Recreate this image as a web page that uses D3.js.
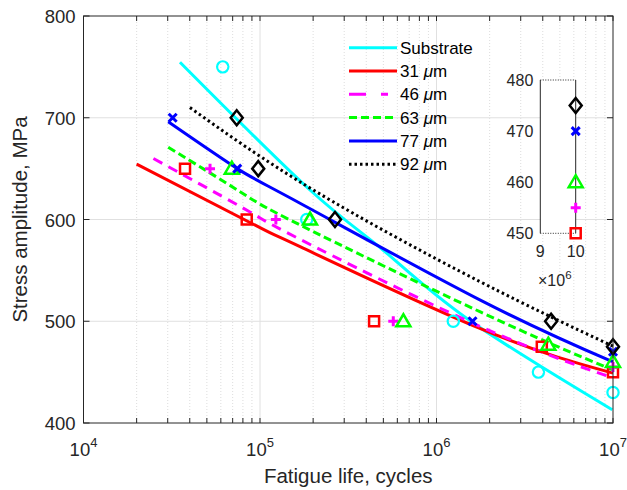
<!DOCTYPE html>
<html>
<head>
<meta charset="utf-8">
<script src="https://cdn.jsdelivr.net/npm/d3@7"></script>
<style>
  html, body { margin: 0; padding: 0; background: #fff; }
  svg { display: block; font-family: "Liberation Sans", Arial, Helvetica, sans-serif; }
</style>
</head>
<body>
<svg id="chart" width="627" height="490"></svg>
<script>
// ── data ────────────────────────────────────────────────────────────────────
const seriesNames = ['Substrate', '31', '46', '63', '77', '92'];
const seriesColors = ['#00ffff', '#ff0000', '#ff00ff', '#00ff00', '#0000ff', '#000000'];
const seriesMarkers = ['circle', 'square', 'plus', 'triangle', 'cross', 'diamond'];
const seriesDash = [null, null, '10,7', '8,4', null, '2.5,3'];
const legendDash = [null, null, '17,15,7', '8,4', null, '2.5,3'];

// test points (cycles, MPa)
const subN = [61500, 184000, 1245000, 3780000, 1e7];
const subS = [750, 600, 500, 450, 430];
const c31N = [37600, 84100, 443000, 3950000, 1e7];
const c31S = [650, 600, 500, 475, 450];
const c46N = [52100, 123000, 569000, 1e7];
const c46S = [650, 600, 500, 455];
const c63N = [69200, 192000, 649000, 4300000, 1e7];
const c63S = [650, 600, 500, 477, 460];
const c77N = [32000, 74300, 1600000, 1e7];
const c77S = [700, 650, 500, 470];
const c92N = [73800, 97700, 266000, 4460000, 1e7];
const c92S = [700, 650, 600, 500, 475];

// fitted S-N curves
const fitSubN = [35200, 192000, 490000, 1480000, 9900000];
const fitSubS = [754.5, 629, 571, 503, 413];
const fit31N = [20000, 1e5, 168600, 1760000, 1e7];
const fit31S = [654.5, 592, 573.3, 493, 449];
const fit46N = [24900, 87700, 168600, 1610000, 1e7];
const fit46S = [660, 607.4, 580.5, 498, 444.2];
const fit63N = [30200, 77100, 168600, 1760000, 1e7];
const fit63S = [671, 627.3, 594.6, 509.4, 452];
const fit77N = [30200, 74300, 168600, 1760000, 1e7];
const fit77S = [696, 650, 616, 521, 460];
const fit92N = [40100, 200400, 1760000, 1e7];
const fit92S = [710, 629, 539, 475.5];

const xTicks = [1e4, 1e5, 1e6, 1e7];
const yTicks = [400, 500, 600, 700, 800];
const insetYTicks = [450, 460, 470, 480];
const insetXTicks = [9e6, 1e7];

const points = [[subN, subS], [c31N, c31S], [c46N, c46S], [c63N, c63S], [c77N, c77S], [c92N, c92S]];
const fits = [[fitSubN, fitSubS], [fit31N, fit31S], [fit46N, fit46S], [fit63N, fit63S], [fit77N, fit77S], [fit92N, fit92S]];

// ── layout ──────────────────────────────────────────────────────────────────
const L = 83.5, R = 613, T = 16, B = 423;
const svg = d3.select('#chart');
const x = d3.scaleLog().domain([1e4, 1e7]).range([L, R]);
const y = d3.scaleLinear().domain([400, 800]).range([B, T]);

// grid
const minorX = [];
for (let e = 4; e < 7; e++) for (let m = 2; m <= 9; m++) minorX.push(m * Math.pow(10, e));
const grid = svg.append('g');
grid.selectAll('line.mx').data(minorX).enter().append('line')
  .attr('x1', d => x(d)).attr('x2', d => x(d)).attr('y1', T).attr('y2', B)
  .attr('stroke', '#d4d4d4').attr('stroke-width', 0.8).attr('stroke-dasharray', '1,2');
grid.selectAll('line.gx').data(xTicks.slice(1, -1)).enter().append('line')
  .attr('x1', d => x(d)).attr('x2', d => x(d)).attr('y1', T).attr('y2', B)
  .attr('stroke', '#e0e0e0').attr('stroke-width', 1);
grid.selectAll('line.gy').data(yTicks.slice(1, -1)).enter().append('line')
  .attr('x1', L).attr('x2', R).attr('y1', d => y(d)).attr('y2', d => y(d))
  .attr('stroke', '#e0e0e0').attr('stroke-width', 1);

// fitted curves
const line = d3.line().curve(d3.curveNatural);
const curves = svg.append('g').attr('fill', 'none');
fits.forEach((f, i) => {
  curves.append('path')
    .attr('d', line(f[0].map((n, k) => [x(n), y(f[1][k])])))
    .attr('stroke', seriesColors[i]).attr('stroke-width', 3)
    .attr('stroke-dasharray', seriesDash[i]);
});

// markers
function marker(g, type, color) {
  const p = g.append('path').attr('fill', 'none').attr('stroke', color);
  if (type === 'circle') p.attr('d', d3.symbol(d3.symbolCircle, 100)()).attr('stroke-width', 2.2);
  if (type === 'square') p.attr('d', 'M-5,-5H5V5H-5Z').attr('stroke-width', 2.5);
  if (type === 'plus') p.attr('d', 'M-5,0H5M0,-5V5').attr('stroke-width', 3);
  if (type === 'cross') p.attr('d', 'M-4,-4L4,4M-4,4L4,-4').attr('stroke-width', 3);
  if (type === 'triangle') p.attr('d', 'M0,-7L7,5H-7Z').attr('stroke-width', 2.5);
  if (type === 'diamond') p.attr('d', 'M0,-7.5L6,0L0,7.5L-6,0Z').attr('stroke-width', 2.5);
}
const marks = svg.append('g');
points.forEach((pt, i) => {
  pt[0].forEach((n, k) => {
    const g = marks.append('g').attr('transform', `translate(${x(n)},${y(pt[1][k])})`);
    marker(g, seriesMarkers[i], seriesColors[i]);
  });
});

// axes frame + ticks
const ax = svg.append('g').attr('stroke', '#262626').attr('fill', 'none');
ax.append('rect').attr('x', L).attr('y', T).attr('width', R - L).attr('height', B - T).attr('stroke-width', 1);
minorX.concat(xTicks).forEach(d => {
  ax.append('line').attr('x1', x(d)).attr('x2', x(d)).attr('y1', B).attr('y2', B - 5);
  ax.append('line').attr('x1', x(d)).attr('x2', x(d)).attr('y1', T).attr('y2', T + 5);
});
yTicks.forEach(d => {
  ax.append('line').attr('x1', L).attr('x2', L + 6).attr('y1', y(d)).attr('y2', y(d));
  ax.append('line').attr('x1', R).attr('x2', R - 6).attr('y1', y(d)).attr('y2', y(d));
});

const txt = svg.append('g').attr('fill', '#262626');
yTicks.forEach(d => {
  txt.append('text').attr('x', L - 8).attr('y', y(d) + 7).attr('text-anchor', 'end')
    .attr('font-size', 18.5).text(d);
});
xTicks.forEach(d => {
  const t = txt.append('text').attr('x', x(d)).attr('y', 456).attr('text-anchor', 'middle').attr('font-size', 18.5);
  t.append('tspan').text('10');
  t.append('tspan').attr('dy', -9).attr('font-size', 13).text(Math.round(Math.log10(d)));
});
txt.append('text').attr('x', (L + R) / 2).attr('y', 483).attr('text-anchor', 'middle')
  .attr('font-size', 20.5).text('Fatigue life, cycles');
txt.append('text').attr('transform', `translate(27,${(T + B) / 2}) rotate(-90)`)
  .attr('text-anchor', 'middle').attr('font-size', 20.5).text('Stress amplitude, MPa');

// legend
const lg = svg.append('g');
seriesNames.forEach((name, i) => {
  const ly = 47.7 + i * 23.3;
  lg.append('line').attr('x1', 349).attr('x2', 397).attr('y1', ly).attr('y2', ly)
    .attr('stroke', seriesColors[i]).attr('stroke-width', 3).attr('stroke-dasharray', legendDash[i]);
  const t = lg.append('text').attr('x', 400).attr('y', ly + 6).attr('font-size', 17).attr('fill', '#000');
  if (i === 0) t.text(name);
  else {
    t.append('tspan').text(name + ' ');
    t.append('tspan').attr('font-style', 'italic').text('\u03bc');
    t.append('tspan').text('m');
  }
});

// inset: zoom on the 10^7 cycle points
const iL = 540.3, iR = 575.7, iT = 80, iB = 233.3;
const ix = d3.scaleLinear().domain([9e6, 1e7]).range([iL, iR]);
const iy = d3.scaleLinear().domain([450, 480]).range([iB, iT]);
const ins = svg.append('g');
ins.append('rect').attr('x', iL).attr('y', iT).attr('width', iR - iL).attr('height', iB - iT).attr('fill', '#fff');
ins.append('line').attr('x1', iL).attr('x2', iR).attr('y1', iT).attr('y2', iT)
  .attr('stroke', '#262626').attr('stroke-dasharray', '1,1.5');
ins.append('line').attr('x1', iL).attr('x2', iR).attr('y1', iB).attr('y2', iB)
  .attr('stroke', '#262626').attr('stroke-dasharray', '1,1.5');
ins.append('line').attr('x1', iL).attr('x2', iL).attr('y1', iT).attr('y2', iB).attr('stroke', '#262626');
ins.append('line').attr('x1', iR).attr('x2', iR).attr('y1', iT).attr('y2', iB).attr('stroke', '#262626');
points.forEach((pt, i) => {
  pt[0].forEach((n, k) => {
    const s = pt[1][k];
    if (n < 9e6 || s < 450 || s > 480) return;
    const g = ins.append('g').attr('transform', `translate(${ix(n)},${iy(s)})`);
    marker(g, seriesMarkers[i], seriesColors[i]);
  });
});
insetYTicks.forEach(d => {
  ins.append('text').attr('x', iL - 7).attr('y', iy(d) + 6).attr('text-anchor', 'end')
    .attr('font-size', 16).attr('fill', '#262626').text(d);
});
insetXTicks.forEach(d => {
  ins.append('text').attr('x', ix(d)).attr('y', 257).attr('text-anchor', 'middle')
    .attr('font-size', 16).attr('fill', '#262626').text(d / 1e6);
});
const ex = ins.append('text').attr('x', 538).attr('y', 286).attr('font-size', 16).attr('fill', '#262626');
ex.append('tspan').text('\u00d710');
ex.append('tspan').attr('dy', -7).attr('font-size', 11.5).text('6');
</script>
</body>
</html>
